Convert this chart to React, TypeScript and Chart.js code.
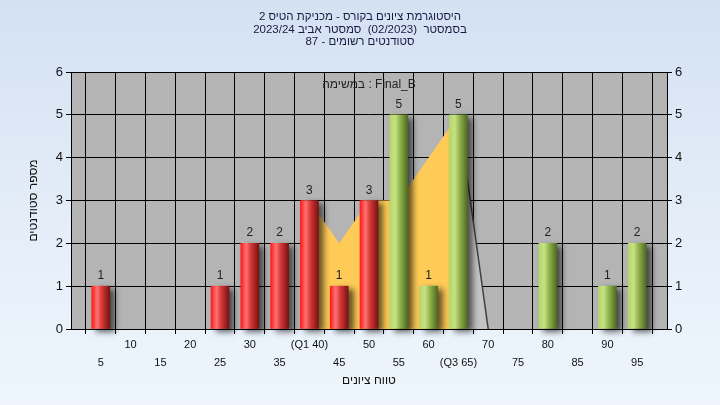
import React, { useEffect, useRef } from 'react';
import { Chart, registerables } from 'chart.js';

Chart.register(...registerables);

// ---- data ----
const grades = [5, 10, 15, 20, 25, 30, 35, 40, 45, 50, 55, 60, 65, 70, 75, 80, 85, 90, 95];
const counts = [1, 0, 0, 0, 1, 2, 2, 3, 1, 3, 5, 1, 5, 0, 0, 2, 0, 1, 2];
const passMark = 55;
const iqrX = [40, 45, 50, 55, 60, 65];
const iqrY = [3, 2, 3, 3, 4, 5];
const tailX = [65, 70];
const tailY = [5, 0];
const specialTicks: Record<number, string> = { 40: '(Q1 40)', 65: '(Q3 65)' };
const titleLines = [
  'היסטוגרמת ציונים בקורס - מכניקת הטיס 2',
  'בסמסטר  (02/2023)  סמסטר אביב 2023/24',
  'סטודנטים רשומים - 87',
];
const seriesLabel = 'במשימה : Final_B';
const xTitle = 'טווח ציונים';
const yTitle = 'מספר סטודנטים';

const FONT = '"Liberation Sans", Arial, sans-serif';

const plotBg = {
  id: 'plotBg',
  beforeDraw(chart: any) {
    const { ctx, chartArea } = chart;
    ctx.save();
    ctx.fillStyle = '#b4b4b4';
    ctx.fillRect(chartArea.left, chartArea.top, chartArea.right - chartArea.left, chartArea.bottom - chartArea.top);
    ctx.restore();
  },
};

const barShadow = {
  id: 'barShadow',
  beforeDatasetDraw(chart: any, args: any) {
    if (args.meta.type === 'bar') {
      const c = chart.ctx;
      c.save();
      c.shadowColor = 'rgba(0,0,0,0.6)';
      c.shadowBlur = 6;
      c.shadowOffsetX = 5;
      c.shadowOffsetY = 3;
    }
  },
  afterDatasetDraw(chart: any, args: any) {
    if (args.meta.type === 'bar') chart.ctx.restore();
  },
};

const valueLabels = {
  id: 'valueLabels',
  afterDatasetsDraw(chart: any) {
    const c = chart.ctx;
    chart.data.datasets.forEach((ds: any, i: number) => {
      if (ds.type !== 'bar') return;
      const meta = chart.getDatasetMeta(i);
      c.save();
      c.font = `12px ${FONT}`;
      c.fillStyle = '#222';
      c.textAlign = 'center';
      c.textBaseline = 'alphabetic';
      meta.data.forEach((el: any, j: number) => {
        const v = ds.data[j].y;
        if (v > 0) c.fillText(String(v), el.x, el.y - 7);
      });
      c.restore();
    });
  },
};

const texts = {
  id: 'texts',
  afterDraw(chart: any) {
    const c = chart.ctx;
    const ca = chart.chartArea;
    const cx = (ca.left + ca.right) / 2;
    c.save();
    c.textAlign = 'center';
    c.textBaseline = 'middle';
    c.font = `11.5px ${FONT}`;
    c.fillStyle = '#1a1a40';
    titleLines.forEach((t, i) => c.fillText(t, 360, 17 + i * 12.5));
    c.font = `12px ${FONT}`;
    c.fillStyle = '#222';
    c.fillText(seriesLabel, cx, 85);
    c.fillStyle = '#111';
    c.fillText(xTitle, cx, 381);
    c.translate(34, (ca.top + ca.bottom) / 2);
    c.rotate(-Math.PI / 2);
    c.fillText(yTitle, 0, 0);
    c.restore();
  },
};

function barColor(context: any) {
  const chart = context.chart;
  const i = context.dataIndex;
  const g = grades[i];
  if (i !== undefined && counts[i] === 0) return 'rgba(0,0,0,0)';
  const fallback = g < passMark ? '#d33' : '#9c4';
  const xs = chart.scales && chart.scales.x;
  if (!xs || i === undefined) return fallback;
  const px = xs.getPixelForValue(g);
  if (!Number.isFinite(px)) return fallback;
  const grad = chart.ctx.createLinearGradient(px - 9, 0, px + 9, 0);
  if (g < passMark) {
    grad.addColorStop(0, '#ff1a1a');
    grad.addColorStop(0.3, '#ff7272');
    grad.addColorStop(0.55, '#d83838');
    grad.addColorStop(1, '#781212');
  } else {
    grad.addColorStop(0, '#b4d668');
    grad.addColorStop(0.3, '#c6e283');
    grad.addColorStop(0.6, '#8cad48');
    grad.addColorStop(1, '#4d6a20');
  }
  return grad;
}

export default function App() {
  const ref = useRef<HTMLCanvasElement | null>(null);

  useEffect(() => {
    if (!ref.current) return;
    const chart = new Chart(ref.current, {
      type: 'bar',
      data: {
        datasets: [
          {
            type: 'bar',
            data: grades.map((g, i) => ({ x: g, y: counts[i] })),
            backgroundColor: barColor,
            borderWidth: 0,
            barThickness: 18,
            order: 0,
            clip: false,
          } as any,
          {
            type: 'line',
            data: tailX.map((x, i) => ({ x, y: tailY[i] })),
            fill: 'origin',
            backgroundColor: '#c4c4c4',
            borderColor: '#404040',
            borderWidth: 1.5,
            pointRadius: 0,
            tension: 0,
            order: 1,
          } as any,
          {
            type: 'line',
            data: iqrX.map((x, i) => ({ x, y: iqrY[i] })),
            fill: 'origin',
            backgroundColor: '#ffcb57',
            borderWidth: 0,
            borderColor: 'rgba(0,0,0,0)',
            pointRadius: 0,
            tension: 0,
            order: 2,
          } as any,
        ],
      },
      options: {
        responsive: false,
        animation: false,
        layout: { padding: { top: 72, left: 0, right: 0, bottom: 0 } },
        plugins: { legend: { display: false }, tooltip: { enabled: false }, title: { display: false } },
        scales: {
          x: {
            type: 'linear',
            position: 'bottom',
            min: 0,
            max: 100,
            offset: false,
            ticks: {
              stepSize: 5,
              autoSkip: false,
              maxRotation: 0,
              minRotation: 0,
              padding: 2,
              color: '#111',
              font: { size: 11, family: FONT, lineHeight: 18 / 11 },
              callback: (v: any) => {
                const n = Number(v);
                if (n <= 0 || n >= 100) return '';
                const lbl = specialTicks[n] ?? String(n);
                return n % 10 === 0 ? lbl : ['', lbl];
              },
            },
            grid: { color: '#000', lineWidth: 1, tickLength: 5, tickColor: '#000', drawTicks: true },
            border: { color: '#000' },
            afterFit: (s: any) => { s.height = 76; },
          },
          y: {
            type: 'linear',
            position: 'left',
            min: 0,
            max: 6,
            ticks: { stepSize: 1, color: '#111', padding: 3, font: { size: 13, family: FONT } },
            grid: { color: '#000', lineWidth: 1, tickLength: 5, tickColor: '#000' },
            border: { color: '#000' },
            afterFit: (s: any) => { s.width = 71; },
          },
          y2: {
            type: 'linear',
            position: 'right',
            min: 0,
            max: 6,
            ticks: { stepSize: 1, color: '#111', padding: 3, font: { size: 13, family: FONT } },
            grid: { drawOnChartArea: false, tickLength: 5, tickColor: '#000' },
            border: { color: '#000' },
            afterFit: (s: any) => { s.width = 53; },
          },
        },
      } as any,
      plugins: [plotBg, barShadow, valueLabels, texts],
    });
    return () => chart.destroy();
  }, []);

  return (
    <div
      style={{
        position: 'fixed',
        left: 0,
        top: 0,
        width: 720,
        height: 405,
        background: 'linear-gradient(to bottom, #d3e1f3 0%, #e6eff9 60%, #eef5fc 100%)',
      }}
    >
      <canvas ref={ref} width={720} height={405} style={{ display: 'block' }} />
    </div>
  );
}
